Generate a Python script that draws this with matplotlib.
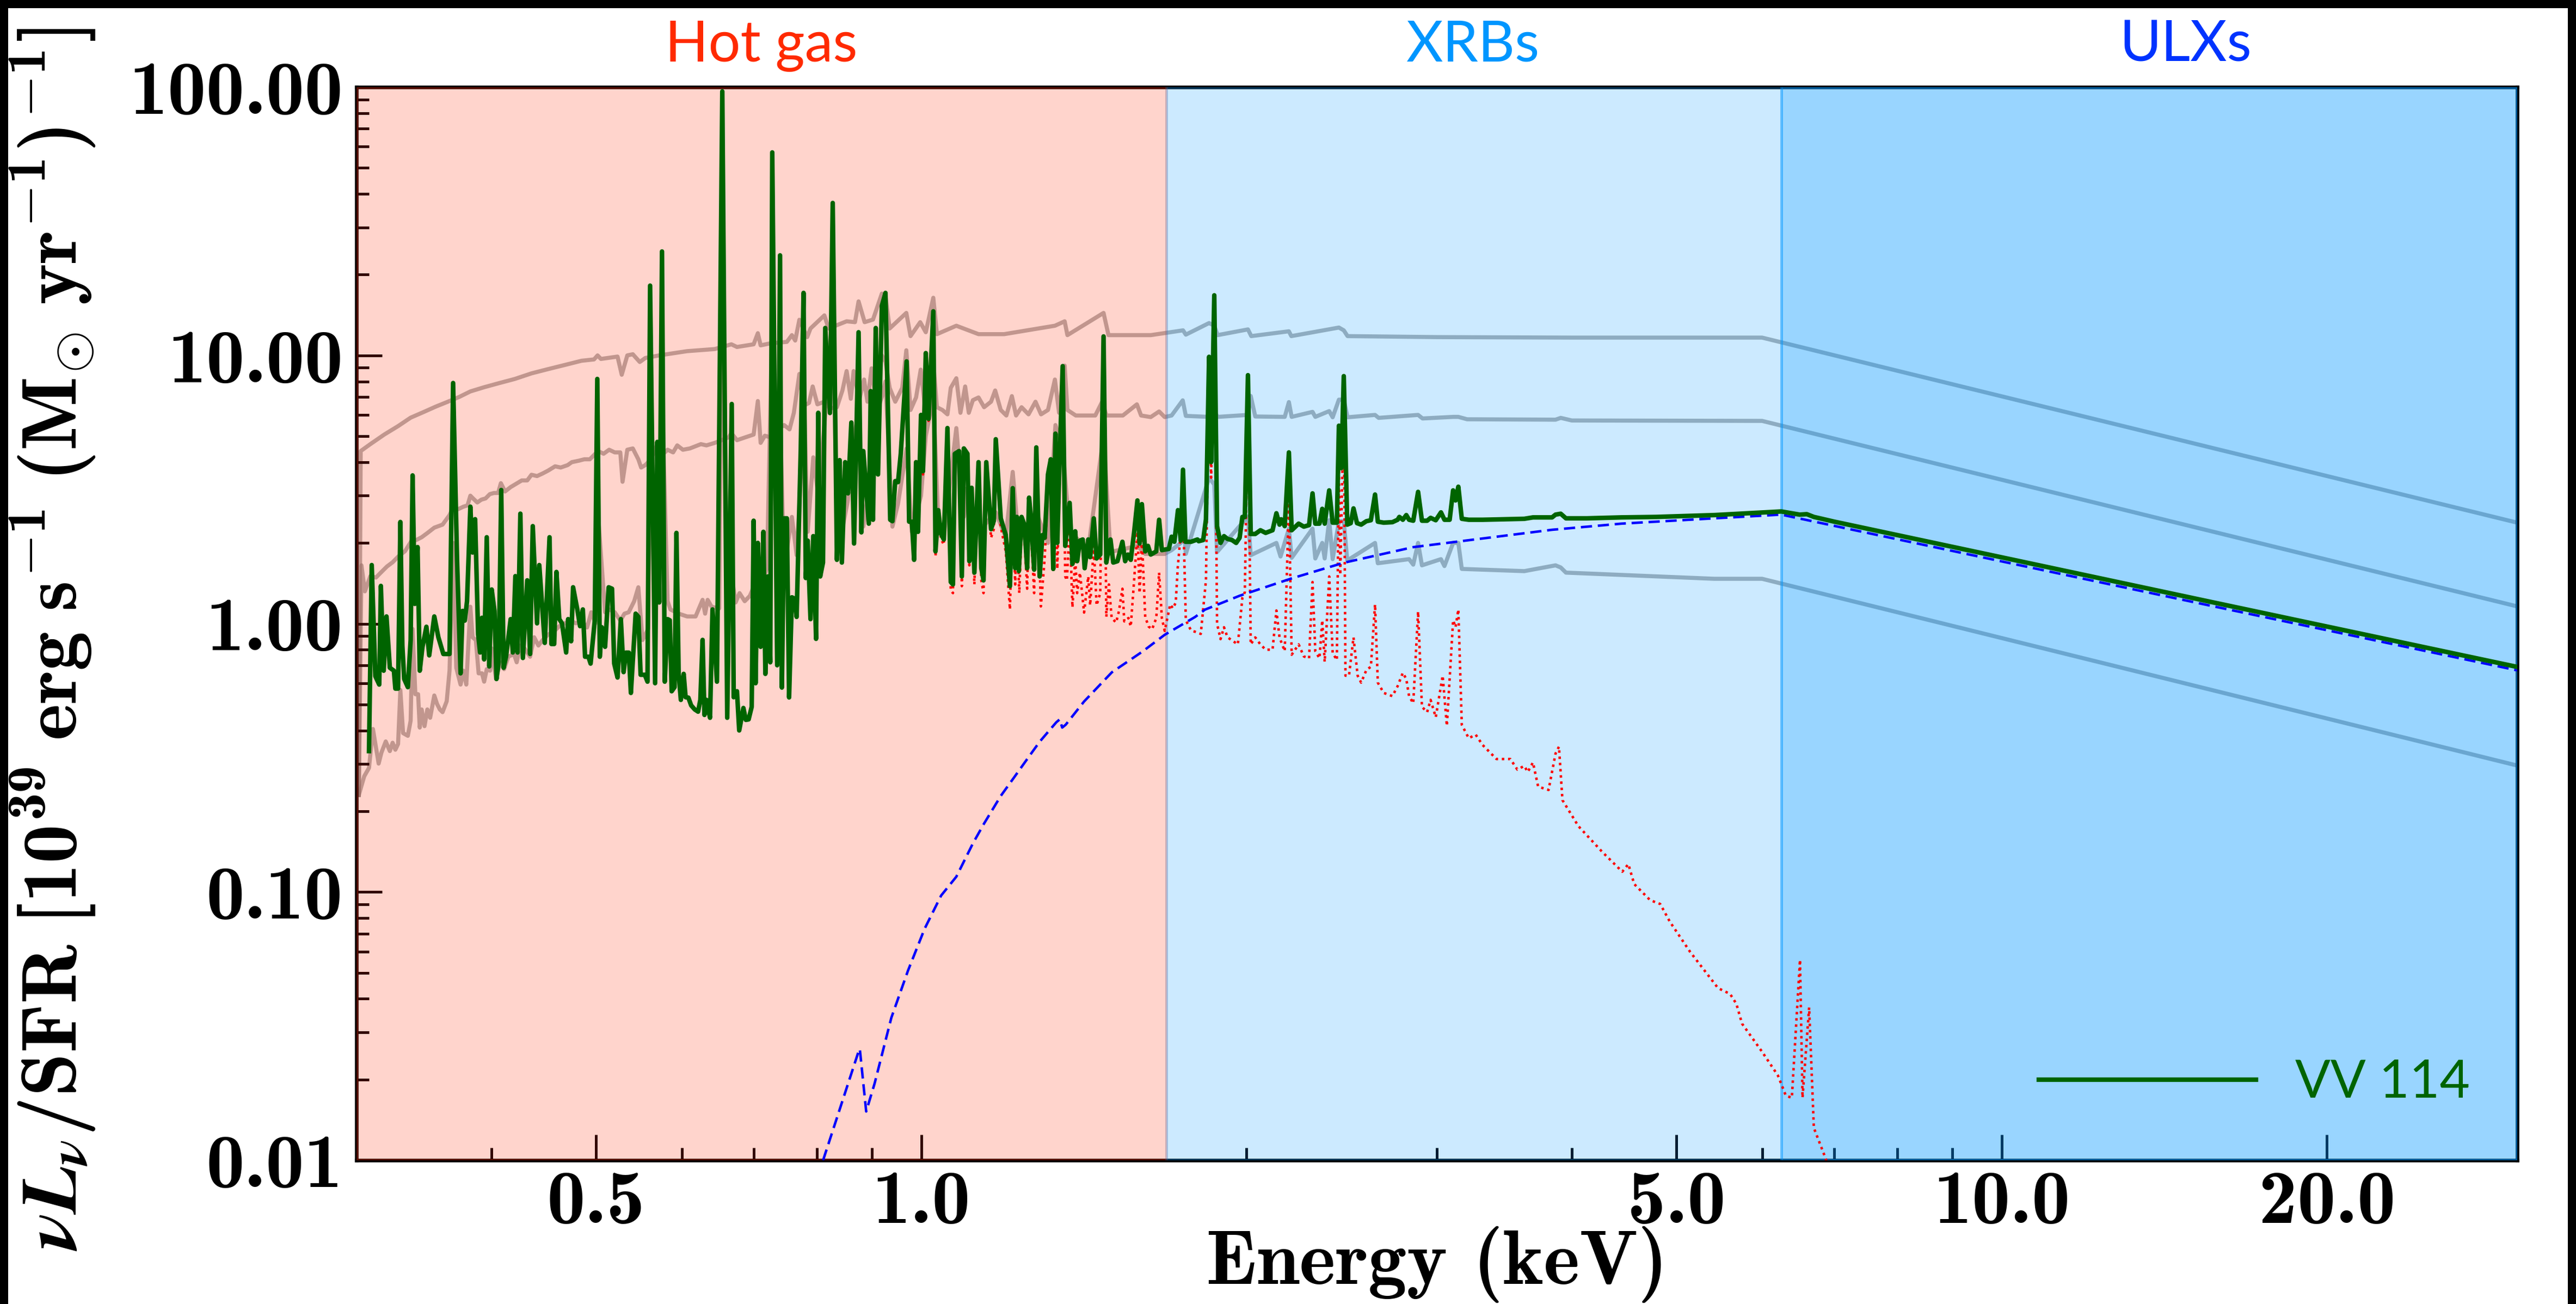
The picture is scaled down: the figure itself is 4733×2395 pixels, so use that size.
import matplotlib
matplotlib.use('Agg')
import matplotlib.pyplot as plt
import matplotlib.transforms as mtransforms
from matplotlib.lines import Line2D
from matplotlib.ticker import FixedLocator, FixedFormatter, LogLocator, NullFormatter

# ---------------- data ----------------
# VV 114 total model (dark green), split in three energy segments
green_soft_E = [0.3081, 0.3099, 0.3123, 0.3149, 0.3160, 0.3179, 0.3198, 0.3221, 0.3249, 0.3259,
                0.3278, 0.3294, 0.3308, 0.3321, 0.3347, 0.3367, 0.3381, 0.3397, 0.3417, 0.3433,
                0.3453, 0.3482, 0.3503, 0.3541, 0.3572, 0.3610, 0.3658, 0.3686, 0.3717, 0.3745,
                0.3761, 0.3779, 0.3797, 0.3824, 0.3842, 0.3863, 0.3888, 0.3904, 0.3920, 0.3938,
                0.3960, 0.3981, 0.4002, 0.4026, 0.4043, 0.4062, 0.4084, 0.4105, 0.4126, 0.4167,
                0.4186, 0.4209, 0.4229, 0.4254, 0.4277, 0.4317, 0.4343, 0.4368, 0.4408, 0.4429,
                0.4481, 0.4527, 0.4545, 0.4572, 0.4594, 0.4622, 0.4649, 0.4690, 0.4710, 0.4740,
                0.4760, 0.4803, 0.4831, 0.4860, 0.4883, 0.4918, 0.4941, 0.4985, 0.5012, 0.5039,
                0.5060, 0.5096, 0.5135, 0.5172, 0.5196, 0.5233, 0.5270, 0.5301, 0.5327, 0.5360,
                0.5384, 0.5439, 0.5471, 0.5497, 0.5546, 0.5578, 0.5609, 0.5669, 0.5696, 0.5719,
                0.5753, 0.5787, 0.5822, 0.5849, 0.5873, 0.5909, 0.5933, 0.5961, 0.5989, 0.6025,
                0.6050, 0.6086, 0.6122, 0.6169, 0.6213, 0.6243, 0.6273, 0.6298, 0.6325, 0.6373,
                0.6407, 0.6468, 0.6542, 0.6611, 0.6675, 0.6703, 0.6750, 0.6782, 0.6843, 0.6879,
                0.6920, 0.6965, 0.6994, 0.7023, 0.7057, 0.7099, 0.7141, 0.7171, 0.7208, 0.7246,
                0.7277, 0.7354, 0.7399, 0.7428]
green_soft_V = [0.335, 1.654, 0.637, 0.593, 1.383, 0.668, 1.064, 0.685, 0.668, 0.573,
                0.573, 2.394, 0.829, 0.622, 0.580, 0.869, 3.57, 1.185, 1.93, 0.668,
                0.820, 0.974, 0.762, 1.064, 0.890, 0.771, 0.771, 7.89, 1.735, 0.653,
                1.116, 1.027, 1.213, 2.73, 1.842, 2.452, 0.911, 0.781, 1.052, 0.736,
                2.10, 0.693, 1.341, 1.116, 0.622, 0.718, 3.15, 0.685, 0.753, 1.04,
                0.781, 1.504, 0.781, 2.571, 0.745, 1.451, 0.771, 2.31, 1.003, 1.654,
                0.848, 2.10, 0.84, 0.84, 1.559, 1.04, 1.003, 0.781, 1.04, 0.86,
                1.367, 1.13, 0.979, 1.13, 0.753, 0.753, 0.71, 1.027, 8.17, 0.753,
                0.97, 0.82, 1.367, 1.35, 0.71, 0.63, 1.04, 0.66, 0.78, 0.78,
                0.552, 1.09, 1.06, 0.645, 0.645, 0.608, 18.2, 0.60, 4.76, 1.2,
                24.4, 0.608, 1.04, 1.03, 0.56, 0.58, 2.18, 0.65, 0.52, 0.65,
                0.532, 0.53, 0.496, 0.479, 0.47, 0.52, 0.87, 0.457, 0.52, 0.446,
                1.13, 0.608, 96.4, 0.446, 6.59, 0.532, 0.56, 0.40, 0.485, 0.438,
                0.44, 0.49, 2.42, 0.60, 2.0, 0.82, 2.20, 0.65, 1.5, 0.718,
                57.1, 0.70, 23.6, 0.578]

green_mid_E = [0.7463, 0.7507, 0.7543, 0.7588, 0.7633, 0.7665, 0.7733, 0.7779, 0.7816, 0.7848,
               0.7895, 0.7942, 0.7989, 0.8027, 0.8060, 0.8108, 0.8147, 0.8229, 0.8278, 0.8352,
               0.8401, 0.8441, 0.8501, 0.8552, 0.8613, 0.8663, 0.8747, 0.8799, 0.8835, 0.8940,
               0.8977, 0.9020, 0.9073, 0.9117, 0.9192, 0.9263, 0.9357, 0.9401, 0.9458, 0.9514,
               0.9570, 0.9690, 0.9742, 0.9799, 0.9846, 0.9887, 0.9928, 0.9992, 1.0034, 1.0094,
               1.0154, 1.0257, 1.0305, 1.0366, 1.0427, 1.0490, 1.0571, 1.0646, 1.0696, 1.0740,
               1.0836, 1.0900, 1.0947, 1.1031, 1.1076, 1.1130, 1.1195, 1.1295, 1.1362, 1.1416,
               1.1483, 1.1600, 1.1669, 1.1718, 1.1843, 1.1970, 1.2077, 1.2149, 1.2213, 1.2257,
               1.2308, 1.2380, 1.2454, 1.2528, 1.2580, 1.2639, 1.2716, 1.2775, 1.2866, 1.2943,
               1.3005, 1.3097, 1.3175, 1.3245, 1.3307, 1.3360, 1.3410, 1.3514, 1.3587, 1.3716,
               1.3798, 1.3880, 1.3937, 1.4020, 1.4104, 1.4162, 1.4271, 1.4329, 1.4440, 1.4527,
               1.4640, 1.4744, 1.4831, 1.4963, 1.5052, 1.5187, 1.5349, 1.5439, 1.5532, 1.5624,
               1.5736, 1.5848, 1.5922, 1.5999, 1.6113, 1.6208, 1.6304, 1.6498, 1.6597, 1.6695,
               1.6944, 1.7045, 1.7146, 1.7278, 1.7380, 1.7464, 1.7557, 1.7765, 1.8010]
green_mid_V = [2.47, 2.47, 0.531, 1.254, 1.24, 1.06, 4.5, 17.1, 1.48, 2.04,
               1.04, 2.12, 0.878, 6.11, 1.5, 1.69, 12.65, 6.1, 37.0, 1.73,
               4.07, 1.69, 4.0, 3.06, 5.62, 1.99, 12.2, 2.19, 4.4, 2.36,
               7.36, 2.44, 12.65, 3.6, 15.3, 17.1, 2.44, 2.41, 3.4, 3.37,
               4.3, 9.5, 2.4, 2.4, 1.73, 4.0, 2.2, 6.0, 3.7, 10.2,
               5.8, 14.6, 1.86, 2.65, 2.16, 2.06, 5.36, 1.43, 1.40, 4.3,
               4.4, 1.50, 4.5, 4.3, 1.71, 3.21, 1.55, 4.0, 1.61, 1.45,
               4.0, 2.25, 2.42, 4.87, 2.47, 2.14, 1.38, 3.2, 1.61, 2.50,
               1.57, 2.50, 2.34, 1.61, 2.95, 2.4, 1.59, 4.54, 1.50, 2.14,
               2.09, 3.6, 4.1, 1.6, 5.11, 2.0, 3.5, 9.12, 1.95, 2.82,
               1.67, 2.21, 1.71, 2.04, 2.06, 1.61, 2.06, 1.77, 2.47, 1.75,
               1.81, 11.77, 1.69, 2.06, 1.69, 1.71, 2.02, 1.71, 1.81, 1.73,
               2.19, 2.88, 1.99, 2.79, 1.86, 1.95, 1.81, 1.86, 2.44, 1.88,
               1.90, 2.11, 2.02, 2.65, 2.04, 3.75, 2.02, 2.02, 2.06]

green_hard_E = [1.8057, 1.8232, 1.8340, 1.8462, 1.8544, 1.8668, 1.8779, 1.8919, 1.9059, 1.9201,
                1.9386, 1.9559, 1.9704, 1.9821, 1.9924, 2.0057, 2.0176, 2.0372, 2.0597, 2.0827,
                2.1137, 2.1311, 2.1453, 2.1532, 2.1693, 2.1886, 2.2016, 2.2345, 2.2594, 2.2847,
                2.3017, 2.3153, 2.3360, 2.3498, 2.3621, 2.3849, 2.4026, 2.4241, 2.4348, 2.4475,
                2.4602, 2.4785, 2.4969, 2.5117, 2.5304, 2.5530, 2.5815, 2.6064, 2.6297, 2.6453,
                2.6788, 2.7288, 2.7593, 2.7695, 2.7901, 2.8108, 2.8275, 2.8528, 2.8824, 2.9061,
                2.9385, 2.9603, 2.9930, 3.0264, 3.0489, 3.0829, 3.1058, 3.1220, 3.1405, 3.1638,
                3.2110, 3.3075, 3.6145, 3.6820, 3.8350, 3.8634, 3.9065, 3.9501, 4.1295, 4.4466,
                4.7879, 5.4203, 6.25, 6.5, 6.6, 6.7, 7.0, 15.4, 30.0]
green_hard_V = [2.03, 2.05, 2.45, 9.88, 4.0, 16.75, 2.31, 2.0, 2.12, 2.07,
                2.05, 2.0, 2.09, 2.5, 2.5, 8.44, 2.16, 2.16, 2.23, 2.18,
                2.23, 2.58, 2.34, 2.45, 2.31, 4.35, 2.23, 2.36, 2.3, 2.33,
                3.06, 2.36, 2.36, 2.68, 2.36, 3.14, 2.38, 2.38, 5.47, 3.8,
                8.37, 2.34, 2.37, 2.69, 2.37, 2.34, 2.41, 2.43, 3.03, 2.40,
                2.38, 2.39, 2.44, 2.5, 2.44, 2.54, 2.44, 2.42, 3.1, 2.42,
                2.42, 2.48, 2.43, 2.6, 2.44, 2.44, 3.14, 2.88, 3.24, 2.46,
                2.44, 2.44, 2.46, 2.49, 2.49, 2.55, 2.57, 2.47, 2.47, 2.49,
                2.5, 2.54, 2.62, 2.55, 2.56, 2.50, 2.40, 1.22, 0.69]

# Hot gas component (red dotted)
hot_E = [0.9992, 1.0034, 1.0094, 1.0154, 1.0257, 1.0305, 1.0366, 1.0427, 1.0490, 1.0571,
         1.0646, 1.0696, 1.0740, 1.0836, 1.0900, 1.0947, 1.1031, 1.1076, 1.1130, 1.1195,
         1.1295, 1.1362, 1.1416, 1.1483, 1.1600, 1.1669, 1.1718, 1.1843, 1.1970, 1.2077,
         1.2149, 1.2213, 1.2257, 1.2320, 1.2380, 1.2454, 1.2528, 1.2580, 1.2639, 1.2716,
         1.2775, 1.2900, 1.3005, 1.3097, 1.3175, 1.3245, 1.3307, 1.3360, 1.3514, 1.3587,
         1.3636, 1.3716, 1.3798, 1.3880, 1.3937, 1.4020, 1.4145, 1.4271, 1.4329, 1.4440,
         1.4527, 1.4640, 1.4744, 1.4831, 1.4914, 1.5000, 1.5144, 1.5232, 1.5349, 1.5410,
         1.5547, 1.5624, 1.5736, 1.5848, 1.5922, 1.5999, 1.6113, 1.6230, 1.6351, 1.6498,
         1.6597, 1.6695, 1.6796, 1.6995, 1.7095, 1.7196, 1.7270, 1.7464, 1.7570, 1.7765,
         1.7964, 1.8138, 1.8340, 1.8462, 1.8544, 1.8668, 1.8779, 1.8919, 1.9059, 1.9201,
         1.9415, 1.9630, 1.9821, 1.9924, 2.0057, 2.0176, 2.0372, 2.0597, 2.0827, 2.1137,
         2.1311, 2.1453, 2.1693, 2.1886, 2.2016, 2.2345, 2.2594, 2.2847, 2.3017, 2.3153,
         2.3360, 2.3498, 2.3621, 2.3849, 2.4026, 2.4241, 2.4348, 2.4420, 2.4602, 2.4690,
         2.4877, 2.5117, 2.5340, 2.5530, 2.5815, 2.6064, 2.6297, 2.6453, 2.6788, 2.7288,
         2.7593, 2.7901, 2.8108, 2.8275, 2.8528, 2.8824, 2.9061, 2.9385, 2.9603, 2.9930,
         3.0374, 3.0646, 3.1058, 3.1220, 3.1405, 3.1638, 3.2110, 3.2586, 3.3075, 3.4065,
         3.5090, 3.5613, 3.6145, 3.6412, 3.6820, 3.7229, 3.8066, 3.8634, 3.8918, 3.9207,
         4.056, 4.268, 4.454, 4.512, 4.569, 4.727, 4.829, 4.930, 5.147, 5.463,
         5.604, 5.680, 5.749, 5.999, 6.206, 6.312, 6.393, 6.505, 6.540, 6.633,
         6.700, 6.874, 6.950]
hot_V = [5.9, 3.6, 10.1, 5.7, 14.5, 1.78, 2.56, 2.07, 1.97, 5.26,
         1.33, 1.30, 4.2, 4.3, 1.38, 4.4, 4.2, 1.65, 3.1, 1.40,
         3.85, 1.45, 1.30, 3.85, 2.09, 2.25, 4.7, 2.3, 1.86, 1.13,
         3.0, 1.40, 2.25, 1.30, 2.25, 2.1, 1.35, 2.65, 2.1, 1.3,
         4.2, 1.16, 1.75, 3.2, 3.7, 1.57, 4.7, 1.6, 8.7, 1.5,
         1.45, 2.4, 1.15, 1.75, 1.30, 1.55, 1.10, 1.50, 1.17, 1.95,
         1.17, 1.30, 11.2, 1.06, 1.40, 1.05, 1.01, 1.11, 1.35, 1.02,
         1.05, 0.976, 1.45, 2.2, 1.3, 2.1, 1.06, 0.976, 0.953, 1.05,
         1.55, 1.05, 0.94, 1.18, 1.14, 1.20, 1.62, 2.7, 1.03, 0.944,
         0.93, 0.916, 1.45, 8.7, 3.5, 15.6, 1.0, 0.876, 0.97, 0.89,
         0.863, 0.837, 1.25, 1.31, 7.1, 0.837, 0.889, 0.837, 0.80, 0.80,
         1.12, 0.889, 0.79, 2.9, 0.766, 0.837, 0.755, 0.743, 1.43, 0.79,
         0.743, 1.03, 0.72, 1.50, 0.778, 0.732, 3.8, 1.52, 6.7, 0.640,
         0.64, 0.889, 0.64, 0.603, 0.672, 0.691, 1.18, 0.603, 0.552, 0.537,
         0.585, 0.656, 0.622, 0.537, 0.505, 1.11, 0.49, 0.468, 0.52, 0.448,
         0.64, 0.416, 1.03, 0.97, 1.13, 0.42, 0.374, 0.386, 0.353, 0.313,
         0.313, 0.286, 0.295, 0.28, 0.304, 0.247, 0.24, 0.328, 0.348, 0.22,
         0.176, 0.141, 0.119, 0.127, 0.107, 0.0932, 0.0902, 0.0774, 0.0598, 0.0438,
         0.0417, 0.0383, 0.0323, 0.0254, 0.0207, 0.0174, 0.0171, 0.0559, 0.0171, 0.0371,
         0.0132, 0.0101, 0.008]

# XRB (+ULX) component (blue dashed)
xrb_E = [0.811, 0.874, 0.877, 0.889, 0.905, 0.938, 0.972, 1.007, 1.043, 1.0773,
         1.1163, 1.143, 1.1843, 1.2198, 1.2565, 1.2866, 1.3331, 1.343, 1.350, 1.360,
         1.4145, 1.5008, 1.6017, 1.6796, 1.7924, 1.830, 1.9704, 2.2016, 2.4602, 2.8528,
         3.3075, 3.835, 4.4466, 5.4203, 6.25, 15.4, 30.0]
xrb_V = [0.0100, 0.0252, 0.026, 0.0152, 0.0193, 0.034, 0.051, 0.073, 0.097, 0.114,
         0.152, 0.180, 0.228, 0.269, 0.318, 0.363, 0.429, 0.44, 0.41, 0.42,
         0.513, 0.659, 0.787, 0.909, 1.06, 1.128, 1.271, 1.475, 1.687, 1.929,
         2.078, 2.239, 2.36, 2.47, 2.55, 1.18, 0.67]

# grey comparison spectra (three scalings)
tmpl_hi_E = [0.3015, 0.3027, 0.3090, 0.3183, 0.3278, 0.3367, 0.3458, 0.3551, 0.3658, 0.3734,
             0.3824, 0.3938, 0.4069, 0.4204, 0.4356, 0.4513, 0.4676, 0.4846, 0.4977, 0.5015,
             0.5051, 0.5233, 0.5280, 0.5343, 0.5406, 0.5487, 0.5552, 0.5719, 0.6068, 0.6438,
             0.6670, 0.6750, 0.6994, 0.7057, 0.7099, 0.7246, 0.7507, 0.7588, 0.7642, 0.7710,
             0.7840, 0.7895, 0.8132, 0.8205, 0.8527, 0.8680, 0.8747, 0.8861, 0.9020, 0.9192,
             0.9263, 0.9346, 0.9684, 0.9771, 0.9975, 1.0094, 1.0257, 1.0336, 1.0773, 1.1295,
             1.1928, 1.3292, 1.3571, 1.3651, 1.4744, 1.4900, 1.6304, 1.7466, 1.7570, 1.8462,
             1.8668, 1.8800, 2.0057, 2.0200, 2.1886, 2.2000, 2.4348, 2.4602, 2.4800, 3.0,
             4.0, 6.0, 30.0]
tmpl_hi_V = [0.23, 4.40, 4.67, 5.07, 5.45, 5.86, 6.14, 6.44, 6.76, 7.0,
             7.34, 7.61, 7.89, 8.17, 8.57, 8.89, 9.21, 9.55, 9.66, 10.0,
             9.7, 9.9, 8.47, 10.0, 10.1, 9.45, 9.78, 10.0, 10.37, 10.56,
             11.0, 10.75, 11.0, 12.1, 10.9, 11.09, 11.23, 11.9, 11.36, 13.58,
             11.7, 12.6, 14.1, 12.6, 13.4, 13.3, 15.9, 13.3, 13.6, 17.0,
             16.6, 12.6, 14.4, 11.8, 13.3, 12.2, 16.4, 12.0, 12.9, 12.0,
             12.0, 12.9, 13.4, 11.9, 14.4, 11.9, 11.9, 12.4, 11.95, 13.2,
             12.9, 11.9, 12.5, 11.8, 12.3, 11.8, 12.7, 12.4, 11.8, 11.7,
             11.65, 11.65, 2.38]

tmpl_mid_E = [0.3015, 0.3032, 0.3054, 0.3090, 0.3127, 0.3164, 0.3202, 0.3240, 0.3278, 0.3327,
              0.3377, 0.3407, 0.3447, 0.3489, 0.3541, 0.3604, 0.3658, 0.3690, 0.3724, 0.3768,
              0.3801, 0.3824, 0.3846, 0.3881, 0.3915, 0.3950, 0.3986, 0.4021, 0.4057, 0.4081,
              0.4117, 0.4167, 0.4204, 0.4267, 0.4317, 0.4356, 0.4408, 0.4461, 0.4513, 0.4581,
              0.4636, 0.4705, 0.4747, 0.4818, 0.4875, 0.4933, 0.4991, 0.5021, 0.5080, 0.5140,
              0.5202, 0.5264, 0.5289, 0.5343, 0.5406, 0.5470, 0.5503, 0.5552, 0.5619, 0.5702,
              0.5753, 0.5822, 0.5891, 0.5943, 0.6015, 0.6105, 0.6251, 0.6325, 0.6438, 0.6632,
              0.6671, 0.6750, 0.6871, 0.6994, 0.7057, 0.7099, 0.7163, 0.7248, 0.7333, 0.7443,
              0.7463, 0.7550, 0.7620, 0.7710, 0.7779, 0.7870, 0.7932, 0.8012, 0.8132, 0.8229,
              0.8352, 0.8451, 0.8527, 0.8604, 0.8655, 0.8758, 0.8850, 0.8914, 0.8993, 0.9073,
              0.9127, 0.9192, 0.9263, 0.9346, 0.9458, 0.9600, 0.9684, 0.9771, 0.9887, 0.9986,
              1.0094, 1.0185, 1.0257, 1.0336, 1.0458, 1.0571, 1.0646, 1.0773, 1.0868, 1.0978,
              1.1063, 1.1160, 1.1295, 1.1430, 1.1600, 1.1703, 1.1843, 1.1985, 1.2127, 1.2236,
              1.2380, 1.2565, 1.2753, 1.2905, 1.3097, 1.3292, 1.3410, 1.3571, 1.3651, 1.3896,
              1.4145, 1.4486, 1.4701, 1.4831, 1.5363, 1.5830, 1.5972, 1.6304, 1.6597, 1.6796,
              1.7045, 1.7454, 1.7570, 1.8462, 1.8668, 1.8800, 2.0057, 2.0176, 2.0372, 2.1693,
              2.1886, 2.2016, 2.3017, 2.3153, 2.3849, 2.4026, 2.4348, 2.4602, 2.4800, 2.6297,
              2.6500, 2.8824, 2.9100, 3.1058, 3.1405, 3.2000, 3.8634, 3.9065, 4.0, 6.0,
              30.0]
tmpl_mid_V = [0.23, 1.65, 1.32, 1.504, 1.486, 1.559, 1.635, 1.694, 1.777, 1.864,
              2.05, 2.05, 2.10, 2.177, 2.28, 2.34, 2.54, 2.73, 2.67, 2.73,
              2.76, 3.0, 2.93, 2.83, 2.90, 2.93, 3.04, 3.07, 3.07, 3.34,
              3.11, 3.23, 3.30, 3.42, 3.42, 3.59, 3.55, 3.63, 3.72, 3.86,
              3.82, 3.90, 4.0, 4.05, 4.10, 4.10, 4.30, 4.40, 4.30, 4.45,
              4.35, 4.35, 3.38, 4.45, 4.50, 4.10, 3.82, 3.90, 4.10, 4.72,
              4.25, 4.45, 4.35, 4.62, 4.45, 4.50, 4.67, 4.62, 4.72, 4.95,
              5.13, 4.83, 4.95, 5.07, 6.76, 4.72, 5.02, 4.95, 5.39, 5.45,
              5.50, 5.30, 6.11, 8.53, 6.49, 6.65, 7.66, 6.57, 6.72, 6.34,
              6.41, 7.40, 8.74, 6.89, 8.74, 6.81, 8.13, 6.72, 8.95, 6.81,
              8.13, 10.0, 9.5, 7.57, 6.72, 7.57, 10.45, 6.26, 6.97, 8.85,
              6.03, 8.74, 9.5, 6.41, 6.26, 6.03, 7.57, 8.22, 6.11, 7.66,
              6.11, 6.81, 6.97, 6.41, 6.72, 7.40, 6.26, 5.97, 7.05, 5.97,
              6.41, 6.03, 6.72, 6.03, 6.26, 8.13, 6.11, 9.16, 6.26, 5.97,
              5.97, 5.97, 6.72, 5.97, 5.97, 6.57, 5.97, 5.89, 6.18, 5.89,
              5.97, 6.80, 5.95, 5.9, 6.2, 5.9, 6.0, 7.06, 5.92, 5.9,
              6.70, 5.9, 6.16, 5.9, 6.2, 5.88, 6.84, 6.84, 5.88, 6.0,
              5.85, 6.0, 5.82, 5.9, 5.9, 5.78, 5.76, 5.85, 5.72, 5.70,
              1.16]

tmpl_lo_E = [0.3015, 0.3050, 0.3081, 0.3107, 0.3145, 0.3164, 0.3193, 0.3221, 0.3240, 0.3259,
             0.3278, 0.3294, 0.3313, 0.3347, 0.3367, 0.3381, 0.3401, 0.3421, 0.3433, 0.3447,
             0.3468, 0.3489, 0.3510, 0.3541, 0.3562, 0.3583, 0.3604, 0.3636, 0.3658, 0.3686,
             0.3711, 0.3745, 0.3768, 0.3791, 0.3824, 0.3842, 0.3869, 0.3892, 0.3920, 0.3938,
             0.3960, 0.3988, 0.4002, 0.4039, 0.4074, 0.4109, 0.4146, 0.4196, 0.4221, 0.4254,
             0.4292, 0.4343, 0.4381, 0.4421, 0.4461, 0.4513, 0.4567, 0.4622, 0.4676, 0.4732,
             0.4789, 0.4846, 0.4904, 0.4948, 0.4991, 0.5012, 0.5096, 0.5140, 0.5202, 0.5264,
             0.5311, 0.5359, 0.5422, 0.5470, 0.5519, 0.5586, 0.5609, 0.5669, 0.5753, 0.5822,
             0.5857, 0.5962, 0.6070, 0.6180, 0.6273, 0.6307, 0.6341, 0.6394, 0.6499, 0.6542,
             0.6611, 0.6675, 0.6730, 0.6787, 0.6862, 0.6939, 0.7057, 0.7117, 0.7196, 0.7277,
             0.7354, 0.7399, 0.7463, 0.7588, 0.7665, 0.7733, 0.7779, 0.7848, 0.7942, 0.8027,
             0.8147, 0.8278, 0.8352, 0.8401, 0.8552, 0.8613, 0.8747, 0.8835, 0.8977, 0.9073,
             0.9192, 0.9263, 0.9401, 0.9514, 0.9690, 0.9799, 0.9992, 1.0094, 1.0257, 1.0366,
             1.0490, 1.0571, 1.0773, 1.0947, 1.1031, 1.1295, 1.1718, 1.1970, 1.2149, 1.2308,
             1.2775, 1.3097, 1.3307, 1.3514, 1.3716, 1.4271, 1.4744, 1.4963, 1.5848, 1.6113,
             1.6796, 1.7045, 1.7380, 1.7466, 1.7570, 1.8462, 1.8668, 1.8779, 2.0057, 2.0176,
             2.1311, 2.1500, 2.1886, 2.2016, 2.3017, 2.3153, 2.3498, 2.3621, 2.3849, 2.4026,
             2.4348, 2.4602, 2.4785, 2.6297, 2.6453, 2.8275, 2.8528, 2.8824, 2.9061, 3.0264,
             3.0489, 3.1058, 3.1405, 3.1638, 3.6145, 3.8634, 3.9065, 3.95, 5.42, 6.0,
             30.0]
tmpl_lo_V = [0.23, 0.270, 0.290, 0.405, 0.301, 0.331, 0.364, 0.335, 0.360, 0.339,
             0.356, 0.566, 0.391, 0.382, 0.435, 0.956, 0.546, 0.546, 0.41, 0.479,
             0.415, 0.479, 0.446, 0.540, 0.502, 0.479, 0.468, 0.514, 0.668, 2.0,
             0.685, 0.593, 0.668, 0.593, 1.157, 0.890, 0.869, 0.653, 0.653, 0.608,
             0.677, 0.668, 0.809, 0.622, 0.718, 0.677, 0.753, 0.771, 0.718, 0.829,
             0.809, 0.753, 0.890, 0.829, 0.869, 0.911, 0.933, 0.979, 1.003, 1.027,
             1.003, 1.027, 0.968, 1.103, 1.003, 2.8, 1.103, 1.130, 1.103, 1.027,
             1.09, 1.103, 1.213, 1.367, 0.869, 0.956, 5.5, 1.0, 7.3, 1.213,
             1.130, 1.09, 1.064, 1.064, 1.227, 1.09, 1.227, 1.157, 1.14, 25.0,
             1.3, 1.504, 1.20, 1.30, 1.213, 1.27, 1.5, 1.40, 1.615, 14.0,
             1.55, 6.0, 1.6, 2.5, 1.8, 3.5, 8.0, 2.2, 4.17, 3.0,
             6.0, 15.0, 2.4, 2.0, 2.9, 4.6, 6.0, 2.3, 3.5, 6.0,
             7.0, 8.0, 2.3, 2.8, 4.5, 2.2, 3.0, 5.0, 7.0, 2.4,
             2.1, 2.8, 5.36, 2.5, 3.2, 2.2, 2.6, 2.1, 3.68, 2.0,
             2.6, 2.0, 5.5, 4.5, 2.2, 1.9, 5.0, 1.85, 1.95, 1.82,
             1.82, 1.88, 2.0, 2.6, 1.82, 3.5, 3.3, 1.85, 2.51, 1.80,
             2.0, 1.78, 2.26, 1.76, 2.26, 1.75, 2.0, 1.75, 2.43, 1.74,
             2.41, 2.41, 1.72, 2.0, 1.68, 1.74, 1.66, 2.0, 1.65, 1.74,
             1.64, 2.0, 2.0, 1.60, 1.57, 1.65, 1.62, 1.55, 1.47, 1.47,
             0.296]

# regions
region_edges = [0.3, 1.685, 6.25, 30.0]
region_labels = ['Hot gas', 'XRBs', 'ULXs']
region_label_x = [0.711, 3.24, 14.8]
region_label_colors = ['#FF2A00', '#0096FF', '#0033FF']
region_face = ['#FF2800', '#0096FF', '#0096FF']
region_alpha = [0.2, 0.2, 0.4]

xtick_vals = [0.5, 1.0, 5.0, 10.0, 20.0]
xtick_labels = ['0.5', '1.0', '5.0', '10.0', '20.0']
ytick_vals = [0.01, 0.1, 1.0, 10.0, 100.0]
ytick_labels = ['0.01', '0.10', '1.00', '10.00', '100.00']

# ---------------- plotting ----------------
plt.rcParams['mathtext.fontset'] = 'custom'
plt.rcParams['mathtext.rm'] = 'cmb10'
plt.rcParams['mathtext.bf'] = 'cmb10'
plt.rcParams['mathtext.it'] = 'STIXGeneral:italic:bold'
plt.rcParams['axes.unicode_minus'] = False

W, H, DPI = 4733, 2395, 300
fig = plt.figure(figsize=(W / DPI, H / DPI), dpi=DPI)
fig.patch.set_facecolor('white')
# black frame on top, left and right edges
fig.add_artist(Line2D([0, 0, 1, 1], [0, 1, 1, 0], transform=fig.transFigure,
                      color='black', lw=7.2, solid_joinstyle='miter', clip_on=False))

ax = fig.add_axes([655 / W, 1 - 2131 / H, (4625 - 655) / W, (2131 - 160) / H])
ax.set_xscale('log')
ax.set_yscale('log')

for E, V in ((tmpl_hi_E, tmpl_hi_V), (tmpl_mid_E, tmpl_mid_V), (tmpl_lo_E, tmpl_lo_V)):
    ax.plot(E, V, color='gray', alpha=0.6, lw=1.8, zorder=1)

for i in range(3):
    ax.axvspan(region_edges[i], region_edges[i + 1], facecolor=region_face[i],
               edgecolor=region_face[i], alpha=region_alpha[i], lw=1.2, zorder=3)

ax.plot(hot_E, hot_V, color='red', ls=(0, (1, 1.5)), lw=1.1, zorder=4)
ax.plot(xrb_E, xrb_V, color='blue', ls=(0, (4.5, 2.3)), lw=1.1, zorder=5)
green_E = green_soft_E + green_mid_E + green_hard_E
green_V = green_soft_V + green_mid_V + green_hard_V
ax.plot(green_E, green_V, color='darkgreen', lw=2.0, zorder=6, label='VV 114')

ax.set_xlim(0.3, 30)
ax.set_ylim(0.01, 100)

ax.xaxis.set_major_locator(FixedLocator(xtick_vals))
ax.xaxis.set_major_formatter(FixedFormatter(xtick_labels))
ax.xaxis.set_minor_locator(LogLocator(base=10, subs=range(2, 10), numticks=20))
ax.xaxis.set_minor_formatter(NullFormatter())
ax.yaxis.set_major_locator(FixedLocator(ytick_vals))
ax.yaxis.set_major_formatter(FixedFormatter(ytick_labels))
ax.yaxis.set_minor_locator(LogLocator(base=10, subs=range(2, 10), numticks=20))
ax.yaxis.set_minor_formatter(NullFormatter())

ax.tick_params(which='both', direction='in', top=False, right=False, width=1.2,
               labelsize=34, labelfontfamily='cmb10')
ax.tick_params(axis='x', which='both', pad=4)
ax.tick_params(axis='y', which='both', pad=6)
ax.tick_params(which='major', length=11.3)
ax.tick_params(which='minor', length=5.6)
for sp in ax.spines.values():
    sp.set_linewidth(1.6)

ax.set_xlabel('Energy (keV)', fontsize=34, fontfamily='cmb10', labelpad=-5)
ax.set_ylabel(r'$\nu L_{\nu}\mathbf{/SFR\ [10^{39}\ erg\ s^{-1}\ (M_{\odot}\ yr^{-1})^{-1}]}$',
              fontsize=34.5)
ax.yaxis.set_label_coords(-0.120, 0.485)

trans = mtransforms.blended_transform_factory(ax.transData, ax.transAxes)
for lab, xpos, col in zip(region_labels, region_label_x, region_label_colors):
    ax.text(xpos, 1.024, lab, transform=trans, ha='center', va='baseline',
            fontsize=25, fontfamily='Lato', color=col)

leg = ax.legend(loc='center right', bbox_to_anchor=(0.978, 0.072), frameon=False,
                prop={'family': 'Lato', 'size': 23}, handlelength=4.16, handletextpad=0.75,
                borderpad=0, borderaxespad=0, labelcolor='darkgreen')
for h in leg.get_lines():
    h.set_linewidth(2.0)

fig.savefig('out.png', dpi=DPI)
